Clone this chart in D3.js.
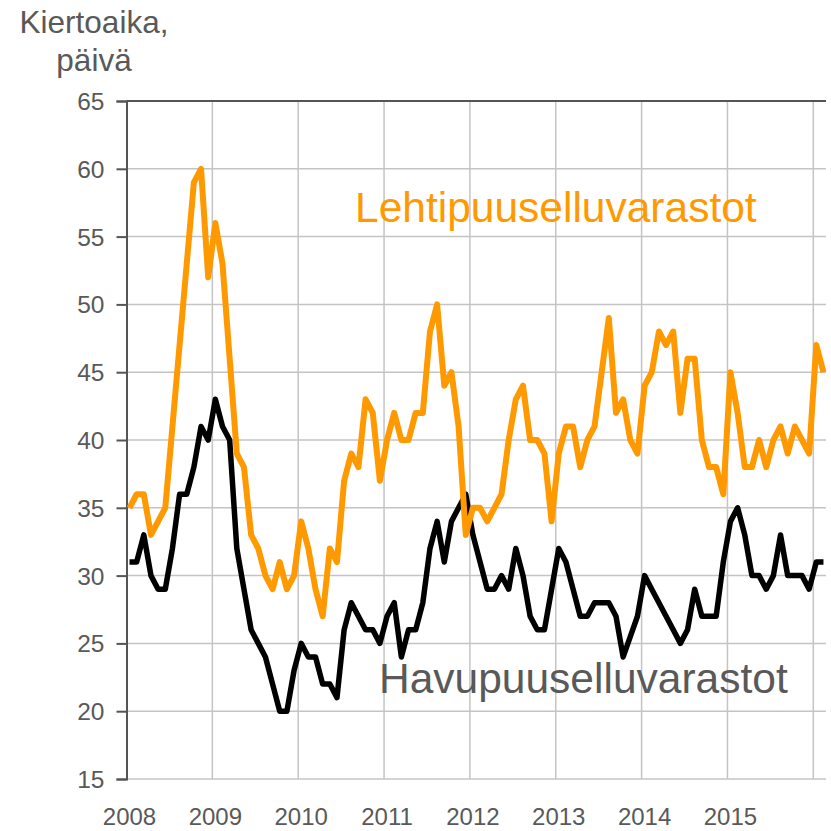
<!DOCTYPE html>
<html>
<head>
<meta charset="utf-8">
<script src="https://cdn.jsdelivr.net/npm/d3@7"></script>
<style>
  html, body { margin: 0; padding: 0; background: #fff; }
  svg { display: block; font-family: "Liberation Sans", Arial, sans-serif; }
</style>
</head>
<body>
<svg id="chart" width="831" height="831"></svg>
<script>
// Monthly values, Jan 2008 .. Feb 2016
const lehtipuu = [35,36,36,33,34,35,41,47,53,59,60,52,
  56,53,46,39,38,33,32,30,29,31,29,30,
  34,32,29,27,32,31,37,39,38,43,42,37,
  40,42,40,40,42,42,48,50,44,45,41,33,
  35,35,34,35,36,40,43,44,40,40,39,34,
  39,41,41,38,40,41,45,49,42,43,40,39,
  44,45,48,47,48,42,46,46,40,38,38,36,
  45,42,38,38,40,38,40,41,39,41,40,39,
  47,45];
const havupuu = [31,31,33,30,29,29,32,36,36,38,41,40,
  43,41,40,32,29,26,25,24,22,20,20,23,
  25,24,24,22,22,21,26,28,27,26,26,25,
  27,28,24,26,26,28,32,34,31,34,35,36,
  33,31,29,29,30,29,32,30,27,26,26,29,
  32,31,29,27,27,28,28,28,27,24,25.5,27,
  30,29,28,27,26,25,26,29,27,27,27,31,
  34,35,33,30,30,29,30,33,30,30,30,29,
  31,31];
const years = ["2008","2009","2010","2011","2012","2013","2014","2015"];
const yTicks = [15,20,25,30,35,40,45,50,55,60,65];
const seriesNames = ["Lehtipuuselluvarastot","Havupuuselluvarastot"];
const titleLines = ["Kiertoaika,","päivä"];

(function () {
const svg = d3.select("#chart");
const pLeft = 126.5, pRight = 826, pTop = 101, pBottom = 779;

// x in months since Jan 2008; year boundaries at multiples of 12
const x = d3.scaleLinear().domain([0, 96]).range([pLeft, 813.3]);
const xEnd = x.invert(pRight);
const y = d3.scaleLinear().domain([15, 65]).range([pBottom, pTop]);
const monthPos = i => x(i + 0.42);

const grid = "#c4c4c4";
const axisCol = "#555555";
const textCol = "#595959";

// horizontal gridlines
svg.append("g").selectAll("line").data(yTicks.filter(t => t !== 65)).join("line")
  .attr("x1", pLeft).attr("x2", pRight)
  .attr("y1", d => y(d)).attr("y2", d => y(d))
  .attr("stroke", grid).attr("stroke-width", 1.5);

// vertical gridlines at year boundaries
svg.append("g").selectAll("line").data(d3.range(12, xEnd, 12)).join("line")
  .attr("x1", d => x(d)).attr("x2", d => x(d))
  .attr("y1", pTop).attr("y2", pBottom)
  .attr("stroke", grid).attr("stroke-width", 1.5);

// top border
svg.append("line").attr("x1", pLeft).attr("x2", pRight)
  .attr("y1", pTop).attr("y2", pTop)
  .attr("stroke", axisCol).attr("stroke-width", 2);

// left axis
const yAxis = d3.axisLeft(y).tickValues(yTicks).tickSize(10).tickPadding(12).tickFormat(d3.format("d"));
const ya = svg.append("g").attr("transform", `translate(${pLeft},0)`).call(yAxis);
ya.select(".domain").attr("stroke", axisCol).attr("stroke-width", 2);
ya.selectAll(".tick line").attr("stroke", axisCol).attr("stroke-width", 2);
ya.selectAll(".tick text").attr("fill", textCol).attr("font-size", 24.5)
  .attr("font-family", "Liberation Sans, Arial, sans-serif").attr("dy", "0.35em");

// x labels
svg.append("g").selectAll("text").data(years).join("text")
  .attr("x", (d, i) => monthPos(i * 12))
  .attr("y", 825)
  .attr("text-anchor", "middle")
  .attr("fill", textCol).attr("font-size", 24)
  .text(d => d);

// lines
const line = d3.line().x((d, i) => monthPos(i)).y(d => y(d));
svg.append("path").datum(havupuu).attr("d", line)
  .attr("fill", "none").attr("stroke", "#000").attr("stroke-width", 5.5)
  .attr("stroke-linejoin", "round");
svg.append("path").datum(lehtipuu).attr("d", line)
  .attr("fill", "none").attr("stroke", "#FF9900").attr("stroke-width", 6)
  .attr("stroke-linejoin", "round");

// series labels
svg.append("text").attr("x", 355).attr("y", 222)
  .attr("fill", "#FF9900").attr("font-size", 42.5).text(seriesNames[0]);
svg.append("text").attr("x", 379).attr("y", 693)
  .attr("fill", textCol).attr("font-size", 42.5).text(seriesNames[1]);

// title
svg.append("g").selectAll("text").data(titleLines).join("text")
  .attr("x", 94).attr("y", (d, i) => 33 + i * 38)
  .attr("text-anchor", "middle")
  .attr("fill", textCol).attr("font-size", 31.5)
  .text(d => d);
})();
</script>
</body>
</html>
